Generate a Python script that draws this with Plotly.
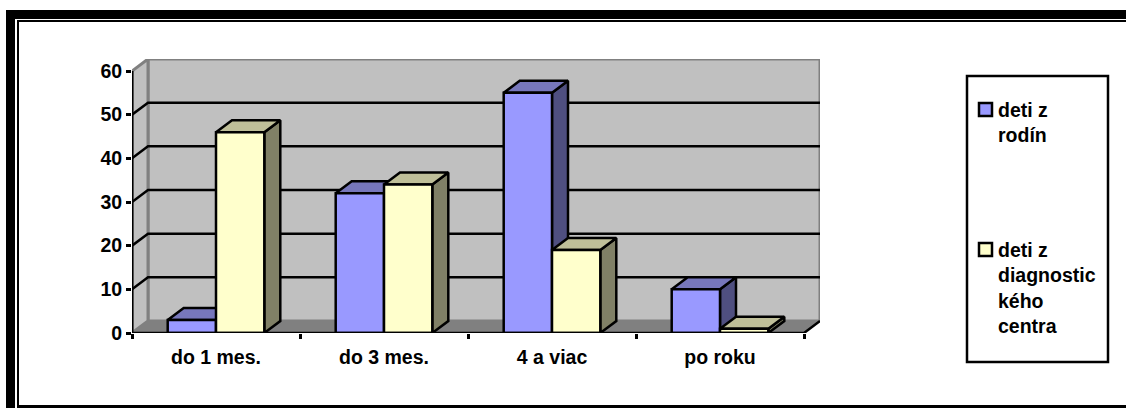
import plotly.graph_objects as go

categories = ["do 1 mes.", "do 3 mes.", "4 a viac", "po roku"]
families = [3, 32, 55, 10]
diagnostic_centre = [46, 34, 19, 1]
y_ticks = [0, 10, 20, 30, 40, 50, 60]
legend_rows = [
    ("#9999FF", ["deti z", "rodín"]),
    ("#FFFFCC", ["deti z", "diagnostic", "kého", "centra"]),
]

WIDTH, HEIGHT = 1126, 408
LEFT, RIGHT, TOP, BOTTOM = 132, 820, 59, 333

# depth of the fake 3D box, in data units
DX = 16 / 168
DY = 12 / 4.367
BAR = 48.3 / 168

BLUE = dict(front="#9999FF", top="#7777BB", side="#4F4F80")
YELLOW = dict(front="#FFFFCC", top="#BFBF99", side="#808066")
FONT = dict(family="Liberation Sans", color="#000000", size=19.5, weight="bold")


def _px(x: float) -> float:
    return (x - LEFT) / (RIGHT - LEFT)


def _py(y: float) -> float:
    return (BOTTOM - y) / (BOTTOM - TOP)


def _poly(fig, xs, ys, fill=None, color="#000000", width=2.5):
    fig.add_trace(go.Scatter(
        x=xs, y=ys, mode="lines",
        fill="toself" if fill else None, fillcolor=fill,
        line=dict(color=color, width=width),
        cliponaxis=False, showlegend=False, hoverinfo="skip",
    ))


def _box(fig, x0, value, colors):
    x1 = x0 + BAR
    _poly(fig, [x1, x1 + DX, x1 + DX, x1, x1], [0, DY, value + DY, value, 0], colors["side"])
    _poly(fig, [x0, x1, x1 + DX, x0 + DX, x0], [value, value, value + DY, value + DY, value], colors["top"])
    _poly(fig, [x0, x1, x1, x0, x0], [0, 0, value, value, 0], colors["front"])


def _frame_rect(x0, y0, x1, y1, fill=None, line=None, width=0):
    return dict(
        type="rect", xref="paper", yref="paper", layer="above",
        x0=_px(x0), x1=_px(x1), y0=_py(y1), y1=_py(y0),
        fillcolor=fill, line=dict(color=line, width=width),
    )


n = len(categories)
top_val = y_ticks[-1]
fig = go.Figure()

# walls and floor
_poly(fig, [DX, n + DX, n + DX, DX, DX], [DY, DY, top_val + DY, top_val + DY, DY], "#C0C0C0", "#808080", 3)
_poly(fig, [0, DX, DX, 0, 0], [0, DY, top_val + DY, top_val, 0], "#C0C0C0", "#808080", 3)
_poly(fig, [0, n, n + DX, DX, 0], [0, 0, DY, DY, 0], "#808080", "#808080", 1)

for v in y_ticks[1:-1]:
    _poly(fig, [0, DX, n + DX], [v, v + DY, v + DY])

# bars, back to front within every category
for i in range(n):
    mid = i + 0.5
    _box(fig, mid - BAR, families[i], BLUE)
    _box(fig, mid, diagnostic_centre[i], YELLOW)

# axes stop at the front of the box
_poly(fig, [0, 0], [0, top_val], width=3)
_poly(fig, [0, n, n + DX], [0, 0, DY], width=2.5)

shapes = [
    # page frame, open on the right
    _frame_rect(6, 10, 15, 408, fill="#000000"),
    _frame_rect(6, 10, 1126, 19, fill="#000000"),
    _frame_rect(17, 20, 19, 408, fill="#000000"),
    _frame_rect(17, 20, 1126, 22, fill="#000000"),
    _frame_rect(17, 405, 1126, 408, fill="#000000"),
    # legend box
    _frame_rect(967, 76, 1108, 362, line="#000000", width=2.5),
]
annotations = []
for (color, lines), swatch_y, text_y in zip(legend_rows, [103, 243], [110, 250]):
    shapes.append(_frame_rect(979, swatch_y, 992, swatch_y + 13, fill=color, line="#000000", width=2.5))
    for j, line in enumerate(lines):
        annotations.append(dict(
            text=line, xref="paper", yref="paper",
            x=_px(996), y=_py(text_y + j * 25.3),
            xanchor="left", yanchor="middle", showarrow=False, font=FONT,
        ))

fig.update_layout(
    width=WIDTH, height=HEIGHT,
    margin=dict(l=LEFT, r=WIDTH - RIGHT, t=TOP, b=HEIGHT - BOTTOM),
    plot_bgcolor="#FFFFFF", paper_bgcolor="#FFFFFF",
    font=FONT, showlegend=False,
    shapes=shapes, annotations=annotations,
    xaxis=dict(
        range=[0, n + DX], showgrid=False, zeroline=False, showline=False,
        tickmode="array", tickvals=[i + 0.5 for i in range(n)], ticktext=categories,
        ticks="", ticklabelstandoff=10, tickfont=FONT,
        minor=dict(tickmode="array", tickvals=list(range(n + 1)), ticks="outside",
                   ticklen=5, tickwidth=2.5, tickcolor="#000000", showgrid=False),
    ),
    yaxis=dict(
        range=[0, top_val + DY], showgrid=False, zeroline=False, showline=False,
        tickmode="array", tickvals=y_ticks, ticks="outside", ticklen=5, tickwidth=2.5,
        tickcolor="#000000", tickfont=FONT,
    ),
)

# the page's default body margin would push the figure 8px off
fig.write_html(
    "out.html",
    config=dict(displayModeBar=False),
    post_script="document.body.style.margin = '0';",
)
